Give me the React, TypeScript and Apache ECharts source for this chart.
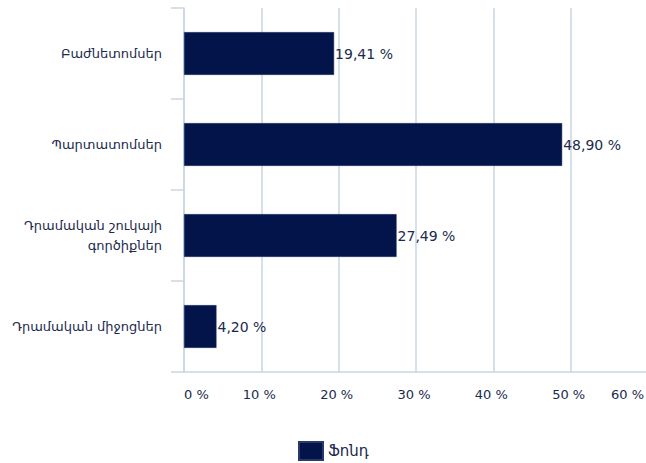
import React, { useEffect, useRef } from "react";
import * as echarts from "echarts";

const categories = [
  "Բաժնետոմսեր",
  "Պարտատոմսեր",
  "Դրամական շուկայի\nգործիքներ",
  "Դրամական միջոցներ",
];
const values = [19.41, 48.9, 27.49, 4.2];
const seriesName = "Ֆոնդ";
const xTicks = [0, 10, 20, 30, 40, 50, 60];

const BAR = "#02144a";
const TEXT = "#1b2a4e";
const GRID = "#c9d6e5";
const FONT = "DejaVu Sans";

export default function App() {
  const ref = useRef<HTMLDivElement>(null);
  useEffect(() => {
    if (!ref.current) return;
    const chart = echarts.init(ref.current, undefined, { renderer: "svg" });
    chart.setOption({
      animation: false,
      textStyle: { fontFamily: FONT },
      grid: {
        left: 184,
        width: 464,
        top: 8,
        height: 364,
        containLabel: false,
        outerBoundsMode: "none",
      },
      legend: {
        top: 441,
        left: 298,
        padding: 0,
        itemWidth: 24,
        itemHeight: 18,
        itemGap: 8,
        icon: "rect",
        textStyle: { color: TEXT, fontSize: 15, fontFamily: FONT },
        data: [seriesName],
      },
      xAxis: {
        type: "value",
        min: xTicks[0],
        max: xTicks[xTicks.length - 1],
        interval: 10,
        axisLine: { show: true, lineStyle: { color: GRID, width: 1.5 } },
        axisTick: { show: false },
        splitLine: { show: true, lineStyle: { color: GRID, width: 1.5 } },
        axisLabel: {
          color: TEXT,
          fontSize: 13,
          fontFamily: FONT,
          margin: 16,
          padding: [0, 4, 0, 0],
          alignMinLabel: "left",
          alignMaxLabel: "right",
          formatter: (v: number) => `${v} %`,
        },
      },
      yAxis: {
        type: "category",
        inverse: true,
        data: categories,
        axisLine: { show: true, lineStyle: { color: GRID, width: 1.5 } },
        axisTick: { show: true, length: 13, lineStyle: { color: GRID, width: 1.5 } },
        axisLabel: {
          color: TEXT,
          fontSize: 13,
          fontFamily: FONT,
          margin: 22,
          lineHeight: 20,
          align: "right",
        },
      },
      series: [
        {
          name: seriesName,
          type: "bar",
          data: values,
          barWidth: "47%",
          itemStyle: { color: BAR, borderColor: "#2a3a68", borderWidth: 0.5 },
          label: {
            show: true,
            position: "right",
            distance: 1,
            color: TEXT,
            fontSize: 14,
            fontFamily: FONT,
            formatter: (p: any) => `${p.value.toFixed(2).replace(".", ",")} %`,
          },
        },
      ],
    });
    return () => chart.dispose();
  }, []);
  return <div ref={ref} style={{ width: 646, height: 463, position: "absolute", left: 0, top: 0 }} />;
}
